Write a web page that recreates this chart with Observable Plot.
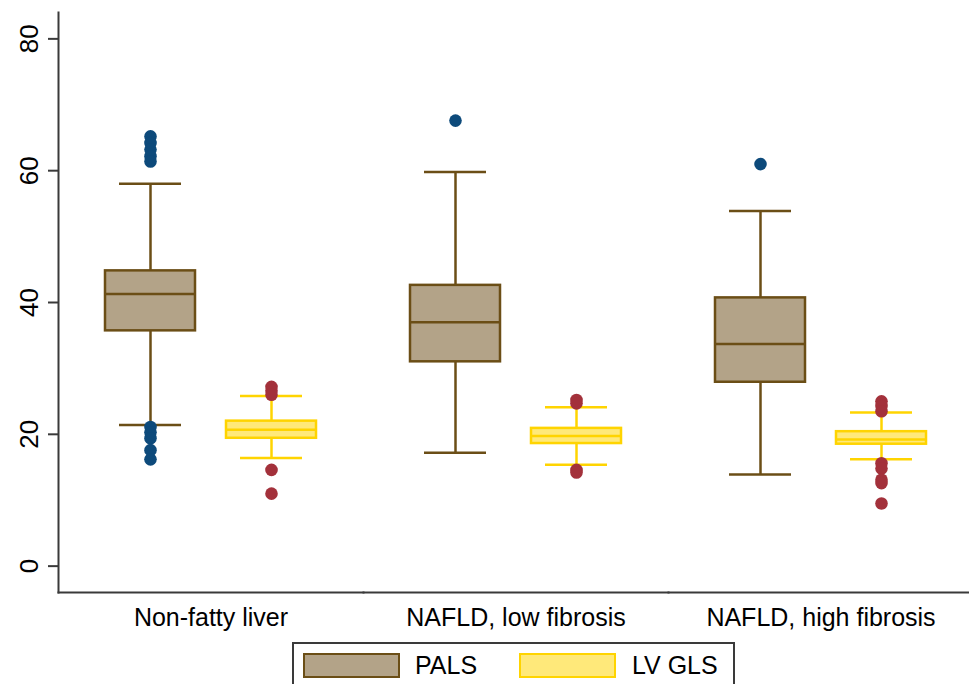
<!DOCTYPE html>
<html>
<head>
<meta charset="utf-8">
<script src="https://cdn.jsdelivr.net/npm/d3@7"></script>
<script src="https://cdn.jsdelivr.net/npm/@observablehq/plot@0.6"></script>
<style>
  html, body { margin: 0; padding: 0; background: #fff; }
  body { position: relative; width: 969px; height: 684px; overflow: hidden; font-family: "Liberation Sans", Arial, sans-serif; }
  #chart svg { display: block; overflow: hidden; }
  #legend { position: absolute; left: 292px; top: 642px; width: 439px; height: 46px; border: 2px solid #3a3a3a; box-sizing: content-box; }
  #legend .sw { position: absolute; top: 9px; width: 93px; height: 21px; border: 2px solid; }
  #legend .lab { position: absolute; top: 8px; font-size: 25px; line-height: 27px; color: #000; }
</style>
</head>
<body>
<div id="chart"></div>
<div id="legend">
  <div class="sw" style="left:9px; background:#b3a388; border-color:#6b4e16;"></div>
  <div class="lab" style="left:121px;">PALS</div>
  <div class="sw" style="left:225px; background:#ffe97a; border-color:#ffd400;"></div>
  <div class="lab" style="left:338px;">LV GLS</div>
</div>
<script>
const groups = ["Non-fatty liver", "NAFLD, low fibrosis", "NAFLD, high fibrosis"];
const seriesNames = ["PALS", "LV GLS"];
const yTicks = [0, 20, 40, 60, 80];

// PALS box statistics per group
const palsLo  = [21.4, 17.2, 13.9];
const palsQ1  = [35.7, 31.0, 27.9];
const palsMed = [41.3, 37.0, 33.7];
const palsQ3  = [44.8, 42.6, 40.7];
const palsHi  = [58.0, 59.8, 53.9];
const palsOutliers = [
  [65.2, 64.2, 63.2, 62.2, 61.4, 21.1, 20.3, 19.4, 17.6, 16.2],
  [67.6],
  [61.0]
];

// LV GLS box statistics per group
const lvLo  = [16.4, 15.4, 16.2];
const lvQ1  = [19.4, 18.6, 18.5];
const lvMed = [20.7, 19.75, 19.2];
const lvQ3  = [22.0, 20.9, 20.4];
const lvHi  = [25.8, 24.1, 23.3];
const lvOutliers = [
  [27.2, 26.6, 26.0, 14.6, 11.0],
  [25.2, 24.7, 14.6, 14.2],
  [25.0, 24.3, 23.5, 15.6, 14.8, 13.1, 12.6, 9.5]
];

const stats = groups.flatMap((g, i) => [
  {group: g, series: "PALS", lo: palsLo[i], q1: palsQ1[i], med: palsMed[i], q3: palsQ3[i], hi: palsHi[i]},
  {group: g, series: "LV GLS", lo: lvLo[i], q1: lvQ1[i], med: lvMed[i], q3: lvQ3[i], hi: lvHi[i]}
]);
const outliers = groups.flatMap((g, i) => [
  ...palsOutliers[i].map(v => ({group: g, series: "PALS", value: v})),
  ...lvOutliers[i].map(v => ({group: g, series: "LV GLS", value: v}))
]);

const fillOf = d => d.series === "PALS" ? "#b3a388" : "#ffe97a";
const strokeOf = d => d.series === "PALS" ? "#6b4e16" : "#ffd400";
const dotOf = d => d.series === "PALS" ? "#0d4a7b" : "#a3313b";

const chart = Plot.plot({
  width: 969,
  height: 640,
  marginTop: 12,
  marginLeft: 57,
  marginRight: -4,
  marginBottom: 48,
  style: {fontFamily: "'Liberation Sans', Arial, sans-serif", color: "#000", background: "#fff"},
  fx: {domain: groups, paddingInner: 0, paddingOuter: 0, label: null},
  x: {domain: seriesNames, paddingInner: 0.26, paddingOuter: 0.39, axis: null},
  y: {domain: [-4, 84], label: null},
  marks: [
    Plot.axisY({ticks: yTicks, tickSize: 10, tickPadding: 11, tickRotate: -90, fontSize: 26, stroke: "#3a3a3a", strokeWidth: 2, label: null}),
    Plot.axisFx({anchor: "bottom", tickSize: 0, tickPadding: 16, fontSize: 25, label: null}),
    Plot.frame({anchor: "left", facetAnchor: "left", stroke: "#3a3a3a", strokeWidth: 2}),
    Plot.frame({anchor: "bottom", stroke: "#3a3a3a", strokeWidth: 2}),
    Plot.ruleX(stats, {x: "series", fx: "group", y1: "q3", y2: "hi", stroke: strokeOf, strokeWidth: 2.5}),
    Plot.ruleX(stats, {x: "series", fx: "group", y1: "lo", y2: "q1", stroke: strokeOf, strokeWidth: 2.5}),
    Plot.tickY(stats, {x: "series", fx: "group", y: "hi", stroke: strokeOf, strokeWidth: 2.5, inset: 14}),
    Plot.tickY(stats, {x: "series", fx: "group", y: "lo", stroke: strokeOf, strokeWidth: 2.5, inset: 14}),
    Plot.barY(stats, {x: "series", fx: "group", y1: "q1", y2: "q3", fill: fillOf, stroke: strokeOf, strokeWidth: 2.5}),
    Plot.tickY(stats, {x: "series", fx: "group", y: "med", stroke: strokeOf, strokeWidth: 2.5}),
    Plot.dot(outliers, {x: "series", fx: "group", y: "value", r: 6.3, fill: dotOf, stroke: "none"})
  ]
});
document.getElementById("chart").append(chart);
</script>
</body>
</html>
